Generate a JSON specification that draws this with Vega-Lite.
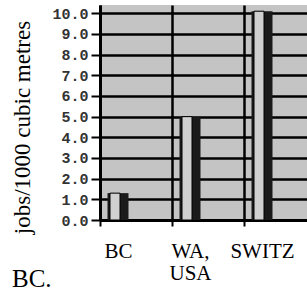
{
  "$schema": "https://vega.github.io/schema/vega-lite/v6.json",
  "autosize": {"type": "none"},
  "padding": {"left": 100, "top": 5, "right": 0, "bottom": 71},
  "width": 207,
  "height": 215,
  "background": "#ffffff",
  "title": {"text": "BC.", "orient": "bottom", "anchor": "start", "frame": "bounds", "font": "Liberation Serif", "fontSize": 25, "fontWeight": "normal", "color": "#000000", "offset": -16},
  "config": {"view": {"fill": "#c4c4c4", "stroke": null}},
  "data": {"values": [
    {"region": "BC", "jobs": 1.3},
    {"region": "WA, USA", "jobs": 5.0},
    {"region": "SWITZ", "jobs": 10.1}
  ]},
  "encoding": {
    "x": {
      "field": "region", "type": "nominal", "sort": null,
      "scale": {"range": [0, 216], "paddingInner": 0, "paddingOuter": 0},
      "axis": {
        "title": null, "labelAngle": 0, "labelFont": "Liberation Serif", "labelFontSize": 21,
        "labelColor": "#000000", "labelOffset": -18, "labelPadding": 14, "labelExpr": "split(datum.label, ' ')",
        "labelLineHeight": 22, "tickBand": "extent", "tickSize": 6, "tickColor": "#000000", "tickWidth": 2,
        "domainColor": "#000000", "domainWidth": 3, "grid": true, "gridColor": "#000000", "gridWidth": 2.5, "gridOpacity": 1
      }
    },
    "y": {
      "field": "jobs", "type": "quantitative",
      "scale": {"domain": [0, 10.4], "nice": false},
      "axis": {
        "values": [0, 1, 2, 3, 4, 5, 6, 7, 8, 9, 10], "format": ".1f",
        "labelFont": "Liberation Mono", "labelFontSize": 15, "labelFontWeight": "bold", "labelColor": "#333333",
        "labelPadding": 3, "tickSize": 9, "tickWidth": 2, "tickColor": "#000000",
        "domainColor": "#000000", "domainWidth": 3,
        "grid": true, "gridColor": "#000000", "gridWidth": 2.5, "gridOpacity": 1,
        "title": "jobs/1000 cubic metres", "titleFont": "Liberation Serif", "titleFontSize": 23,
        "titleFontWeight": "normal", "titleColor": "#000000", "titlePadding": 17, "titleY": 122
      }
    }
  },
  "layer": [
    {"mark": {"type": "bar", "width": 21, "xOffset": -18, "color": "#1a1a1a"}},
    {"mark": {"type": "bar", "width": 10, "xOffset": -21, "color": "#d0d0d0", "stroke": "#000000", "strokeWidth": 1}}
  ]
}
